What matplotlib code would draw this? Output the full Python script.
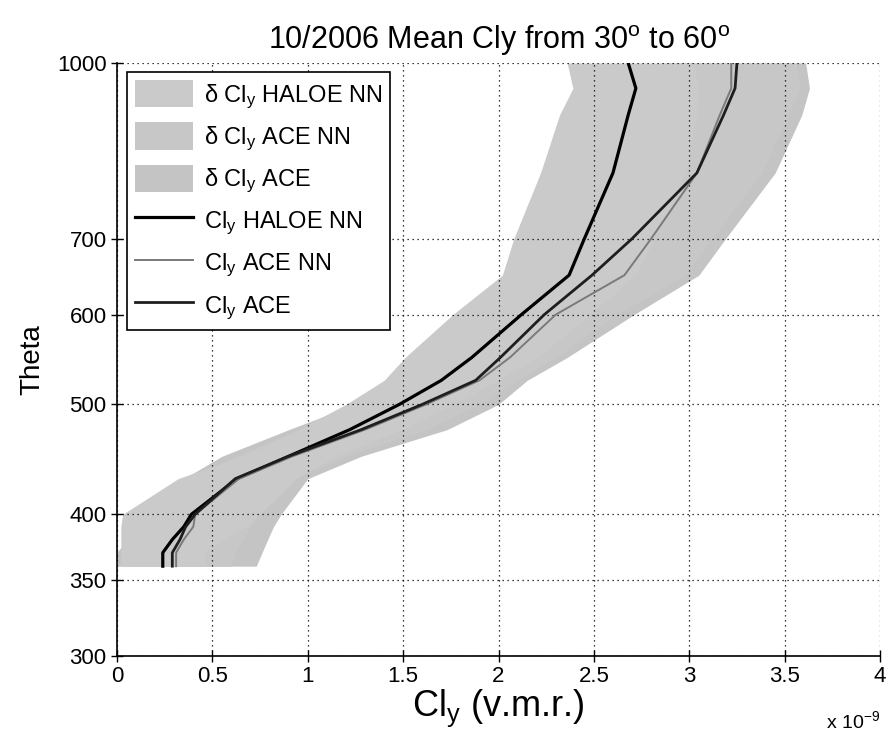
import numpy as np
import matplotlib
matplotlib.use("Agg")
import matplotlib.pyplot as plt
from matplotlib.ticker import FixedLocator, NullLocator, FuncFormatter

plt.rcParams['font.family'] = ['Liberation Sans', 'DejaVu Sans']
plt.rcParams['mathtext.fontset'] = 'custom'
plt.rcParams['mathtext.rm'] = 'Liberation Sans'

SCALE = 1e-9

# potential temperature levels (K)
theta = [360, 370, 380, 390, 400, 430, 450, 475, 500, 525, 550,
         600, 650, 700, 800, 900, 950, 1000]

# Cly mean profiles (x 1e-9 v.m.r.)
cly_haloe_nn = [0.24, 0.24, 0.29, 0.35, 0.39, 0.63, 0.90, 1.22, 1.48, 1.70, 1.86,
                2.12, 2.37, 2.45, 2.60, 2.68, 2.72, 2.68]
cly_ace_nn = [0.31, 0.31, 0.35, 0.40, 0.41, 0.64, 0.92, 1.30, 1.62, 1.90, 2.06,
              2.30, 2.66, 2.80, 3.04, 3.16, 3.22, 3.22]
cly_ace = [0.29, 0.29, 0.33, 0.36, 0.41, 0.62, 0.90, 1.28, 1.60, 1.88, 2.01,
           2.24, 2.49, 2.70, 3.04, 3.18, 3.24, 3.25]

# uncertainty envelopes (x 1e-9 v.m.r.)
haloe_nn_lo = [0.02, 0.02, 0.02, 0.02, 0.03, 0.32, 0.65, 0.95, 1.20, 1.40, 1.51,
               1.76, 2.02, 2.08, 2.22, 2.32, 2.39, 2.36]
haloe_nn_hi = [0.46, 0.46, 0.56, 0.68, 0.75, 0.94, 1.15, 1.49, 1.76, 2.00, 2.21,
               2.48, 2.72, 2.82, 2.98, 3.04, 3.05, 3.02]
ace_nn_lo = [0.05, 0.05, 0.10, 0.15, 0.20, 0.40, 0.62, 0.95, 1.30, 1.62, 1.75,
             1.95, 2.25, 2.40, 2.65, 2.78, 2.82, 2.85]
ace_nn_hi = [0.60, 0.62, 0.66, 0.70, 0.74, 0.92, 1.20, 1.62, 1.90, 2.10, 2.30,
             2.62, 2.98, 3.12, 3.38, 3.52, 3.58, 3.56]
ace_lo = [0.00, 0.00, 0.05, 0.08, 0.12, 0.35, 0.55, 0.90, 1.25, 1.60, 1.70,
          1.85, 2.10, 2.30, 2.60, 2.78, 2.86, 2.89]
ace_hi = [0.73, 0.76, 0.79, 0.82, 0.86, 1.00, 1.28, 1.73, 2.00, 2.15, 2.36,
          2.71, 3.05, 3.19, 3.45, 3.59, 3.63, 3.61]

xticks = [0, 0.5, 1, 1.5, 2, 2.5, 3, 3.5, 4]
yticks = [300, 350, 400, 500, 600, 700, 1000]

CLY = r'Cl$\mathregular{_y}$'
DCLY = r'$\mathregular{\delta}$ ' + CLY


def sc(vals):
    return np.array(vals) * SCALE


fig = plt.figure(figsize=(8.91, 7.44), dpi=100)
ax = fig.add_axes([0.1313, 0.1183, 0.8564, 0.797])

# bands: ACE drawn first so the lighter HALOE band sits on the left
f_ace = ax.fill_betweenx(theta, sc(ace_lo), sc(ace_hi), color='#c4c4c4', lw=0)
f_acenn = ax.fill_betweenx(theta, sc(ace_nn_lo), sc(ace_nn_hi), color='#c7c7c7', lw=0)
f_haloe = ax.fill_betweenx(theta, sc(haloe_nn_lo), sc(haloe_nn_hi), color='#cacaca', lw=0)

l_haloe, = ax.plot(sc(cly_haloe_nn), theta, color='black', lw=2.3)
l_acenn, = ax.plot(sc(cly_ace_nn), theta, color='#7a7a7a', lw=1.4)
l_ace, = ax.plot(sc(cly_ace), theta, color='#1e1e1e', lw=2.0)

ax.set_yscale('log')
ax.set_ylim(300, 1000)
ax.set_xlim(0, 4 * SCALE)
ax.yaxis.set_major_locator(FixedLocator(yticks))
ax.yaxis.set_minor_locator(NullLocator())
ax.yaxis.set_major_formatter(FuncFormatter(lambda v, p: '%d' % v))
ax.xaxis.set_major_locator(FixedLocator([t * SCALE for t in xticks]))
ax.xaxis.set_major_formatter(FuncFormatter(lambda v, p: '%g' % (v / SCALE)))
ax.tick_params(labelsize=16, direction='inout', length=8, width=1)

ax.grid(True, color='black', linestyle=(0, (1, 3)), lw=0.9)
for s in ['top', 'right']:
    ax.spines[s].set_visible(False)
for s in ['left', 'bottom']:
    ax.spines[s].set_linewidth(1.2)

ax.set_title(r'10/2006 Mean Cly from 30$\mathregular{^o}$ to 60$\mathregular{^o}$',
             fontsize=22, pad=10)
ax.set_ylabel('Theta', fontsize=20, labelpad=8)
ax.set_xlabel(CLY + ' (v.m.r.)', fontsize=26, labelpad=0)
fig.text(0.988, 0.022, r'x 10$\mathregular{^{-9}}$', fontsize=14, ha='right')

leg = ax.legend([f_haloe, f_acenn, f_ace, l_haloe, l_acenn, l_ace],
                [DCLY + ' HALOE NN', DCLY + ' ACE NN', DCLY + ' ACE',
                 CLY + ' HALOE NN', CLY + ' ACE NN', CLY + ' ACE'],
                loc='upper left', bbox_to_anchor=(0.013, 0.985), fontsize=17,
                fancybox=False, framealpha=1, edgecolor='black',
                handlelength=2.45, handleheight=1.4, labelspacing=0.5,
                borderpad=0.35, handletextpad=0.45, borderaxespad=0)
leg.get_frame().set_linewidth(1.2)

fig.savefig('out.png', dpi=100)
